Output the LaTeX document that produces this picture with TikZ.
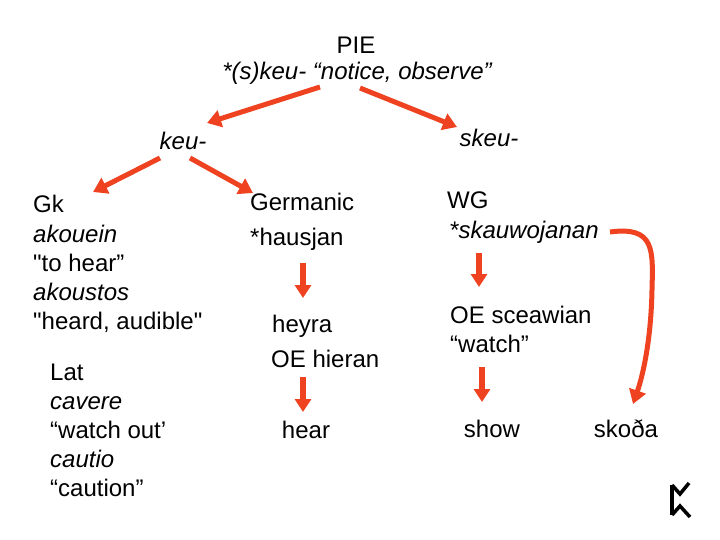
\documentclass[tikz,border=0pt]{standalone}
\usepackage{fontspec}
\setmainfont{Liberation Sans}
\usepackage{tikz}
\usepackage{xcolor}
\usetikzlibrary{arrows.meta}

\definecolor{arrowred}{RGB}{238,66,32}

\tikzset{
    word/.style={font=\fontsize{24}{29}\selectfont, inner sep=0pt, anchor=base west},
    cword/.style={word, anchor=base},
    redarrow/.style={draw=arrowred, line width=5pt, -{Triangle[length=14pt,width=17pt]}},
    downarrow/.style={draw=arrowred, line width=6.5pt, -{Triangle[length=13pt,width=16pt]}},
}

\begin{document}
\begin{tikzpicture}[x=1pt, y=-1pt]
    \useasboundingbox (0,0) rectangle (720,540);

    % Root: PIE
    \node[cword] (pie) at (356, 54) {PIE};
    \node[cword] (root) at (357, 80) {\itshape *(s)keu- “notice, observe”};

    % Two stems
    \node[cword] (keu) at (183, 150) {\itshape keu-};
    \node[cword] (skeu) at (489, 147) {\itshape skeu-};

    % Greek
    \foreach \n/\y/\txt in {1/213/Gk, 2/242/\itshape akouein, 3/271/\textquotedbl to hear”,
                            4/300/\itshape akoustos, 5/329/{\textquotedbl heard, audible\textquotedbl}} {
        \node[word] (gk\n) at (33, \y) {\txt};
    }

    % Latin
    \foreach \n/\y/\txt in {1/380/Lat, 2/409/\itshape cavere, 3/438/“watch out’,
                            4/467/\itshape cautio, 5/496/“caution”} {
        \node[word] (lat\n) at (50, \y) {\txt};
    }

    % Germanic branch
    \node[word] (germ) at (250, 211) {Germanic};
    \node[word] (hausjan) at (250, 245) {*hausjan};
    \node[word] (heyra) at (272, 332) {heyra};
    \node[word] (hieran) at (271, 367) {OE hieran};
    \node[cword] (hear) at (306, 438) {hear};

    % West Germanic branch
    \node[word] (wg) at (447, 208) {WG};
    \node[word] (skauw) at (449, 238) {\itshape *skauwojanan};
    \node[word] (sceaw) at (450, 323) {OE sceawian};
    \node[word] (watch) at (450, 352) {“watch”};
    \node[cword] (show) at (492, 437) {show};
    \node[cword] (skoda) at (626, 437) {skoða};

    % Arrow ends
    \coordinate (pieL0) at (320, 87);  \coordinate (pieL1) at (207, 123);
    \coordinate (pieR0) at (360, 88);  \coordinate (pieR1) at (457, 127);
    \coordinate (keuL0) at (160, 158); \coordinate (keuL1) at (93, 192);
    \coordinate (keuR0) at (190, 158); \coordinate (keuR1) at (253, 193);
    \coordinate (germ0) at (303, 263); \coordinate (germ1) at (303, 298);
    \coordinate (hier0) at (303, 377); \coordinate (hier1) at (303, 412);
    \coordinate (wg0) at (479, 253);   \coordinate (wg1) at (479, 287);
    \coordinate (oe0) at (482, 367);   \coordinate (oe1) at (482, 402);
    \coordinate (sk0) at (610, 232);   \coordinate (sk1) at (633, 404);

    \draw[redarrow] (pieL0) -- (pieL1);
    \draw[redarrow] (pieR0) -- (pieR1);
    \draw[redarrow] (keuL0) -- (keuL1);
    \draw[redarrow] (keuR0) -- (keuR1);
    \draw[downarrow] (germ0) -- (germ1);
    \draw[downarrow] (hier0) -- (hier1);
    \draw[downarrow] (wg0) -- (wg1);
    \draw[downarrow] (oe0) -- (oe1);

    % Loan into Norse
    \draw[redarrow] (sk0) .. controls (655, 226) and (653, 250) .. (652, 290)
        .. controls (651, 340) and (643, 375) .. (sk1);

    % Rune
    \draw[line width=3.5pt] (672, 485) -- (672, 515);
    \draw[line width=3.5pt] (672, 485) -- (680, 494) -- (689, 483);
    \draw[line width=3.5pt] (672, 515) -- (680, 506) -- (690, 517);
\end{tikzpicture}
\end{document}
